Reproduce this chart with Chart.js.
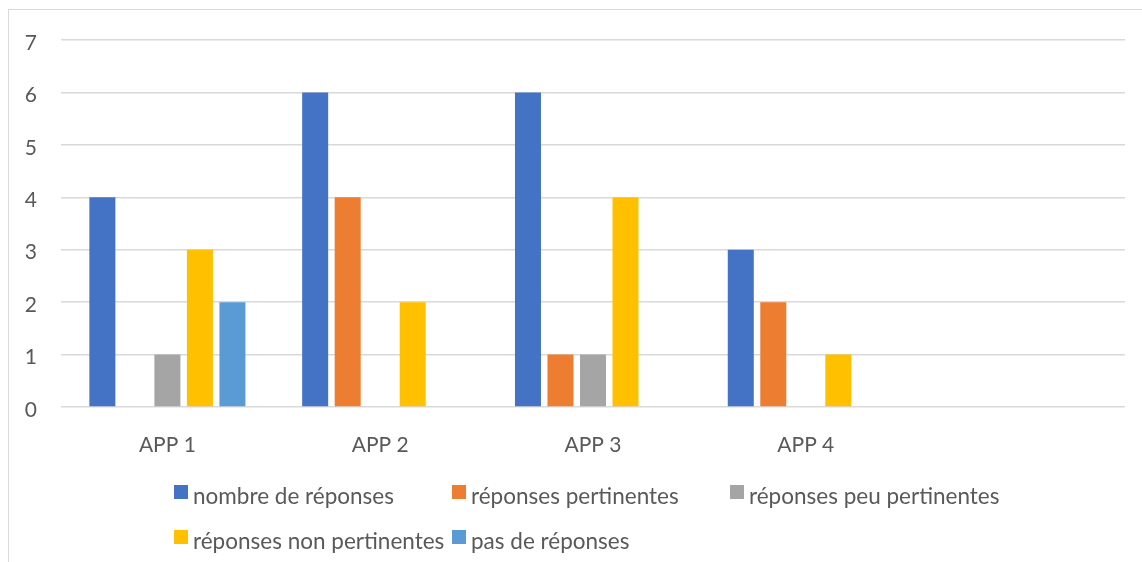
<!DOCTYPE html>
<html>
<head>
<meta charset="utf-8">
<script src="https://cdn.jsdelivr.net/npm/chart.js@4"></script>
<style>
    body { margin: 0; background: #fff; }
    #wrap { position: relative; width: 1142px; height: 562px; overflow: hidden; }
    #frame { position: absolute; left: 8px; top: 9px; width: 1200px; height: 600px; border: 1.5px solid #d9d9d9; box-sizing: border-box; }
    #chart { position: absolute; left: 0; top: 0; }
    .legend-item { position: absolute; font-family: Lato, sans-serif; font-size: 22.5px; line-height: normal; color: #595959; white-space: nowrap; }
    .legend-item span.box { position: absolute; left: 0; top: 0; width: 14px; height: 14px; }
    .legend-item span.txt { position: absolute; left: 19px; top: -3px; }
</style>
</head>
<body>
<div id="wrap">
    <div id="frame"></div>
    <canvas id="chart" width="1142" height="562"></canvas>
    <div id="legend"></div>
</div>
<script>
// --- DATA ---
const categories = ['APP 1', 'APP 2', 'APP 3', 'APP 4', ''];
const seriesNames = ['nombre de réponses', 'réponses pertinentes', 'réponses peu pertinentes', 'réponses non pertinentes', 'pas de réponses'];
const nombreReponses = [4, 6, 6, 3, null];
const reponsesPertinentes = [0, 4, 1, 2, null];
const reponsesPeuPertinentes = [1, 0, 1, 0, null];
const reponsesNonPertinentes = [3, 2, 4, 1, null];
const pasDeReponses = [2, 0, 0, 0, null];
const yTicks = [0, 1, 2, 3, 4, 5, 6, 7];

const colors = ['#4472C4', '#ED7D31', '#A5A5A5', '#FFC000', '#5B9BD5'];
const values = [nombreReponses, reponsesPertinentes, reponsesPeuPertinentes, reponsesNonPertinentes, pasDeReponses];

const textColor = '#595959';
const fontFamily = 'Lato, sans-serif';

// --- CHART ---
const chart = new Chart(document.getElementById('chart'), {
    type: 'bar',
    data: {
        labels: categories,
        datasets: seriesNames.map((name, i) => ({
            label: name,
            data: values[i],
            backgroundColor: colors[i],
            borderWidth: 0,
            categoryPercentage: 0.764,
            barPercentage: 0.8
        }))
    },
    options: {
        responsive: false,
        animation: false,
        layout: { padding: { top: 40, right: 17, bottom: 105, left: 0 } },
        plugins: { legend: { display: false }, tooltip: { enabled: false } },
        scales: {
            x: {
                grid: { display: false },
                border: { display: false },
                ticks: { color: textColor, font: { family: fontFamily, size: 21 }, padding: 18, maxRotation: 0 },
                afterFit: s => { s.height = 50; }
            },
            y: {
                min: 0,
                max: 7,
                afterBuildTicks: s => { s.ticks = yTicks.map(v => ({ value: v })); },
                grid: { color: '#d9d9d9', lineWidth: 1.5, drawTicks: false },
                border: { display: false },
                ticks: { color: textColor, font: { family: fontFamily, size: 21 }, padding: 24, labelOffset: 3 },
                afterFit: s => { s.width = 61; }
            }
        }
    }
});

// --- LEGEND (Excel-style grid) ---
const legend = document.getElementById('legend');
const colX = [174, 452, 730];
const rowY = [485, 530];
chart.data.datasets.forEach((ds, i) => {
    const item = document.createElement('div');
    item.className = 'legend-item';
    item.style.left = colX[i % 3] + 'px';
    item.style.top = rowY[Math.floor(i / 3)] + 'px';
    item.innerHTML = `<span class="box" style="background:${ds.backgroundColor}"></span><span class="txt">${ds.label}</span>`;
    legend.appendChild(item);
});
</script>
</body>
</html>
